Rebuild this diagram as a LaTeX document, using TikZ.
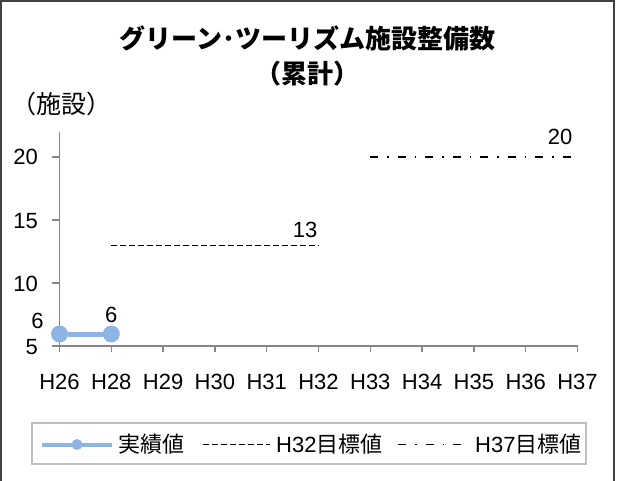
\documentclass[tikz,border=0pt]{standalone}
\usepackage{fontspec}
\setmainfont{Liberation Sans}
\newfontfamily\jp{Noto Sans CJK JP}
\usepackage{tikz}
\usetikzlibrary{positioning}
\definecolor{actualblue}{RGB}{141, 180, 227}
\definecolor{axisgray}{RGB}{134, 134, 134}
\definecolor{framegray}{RGB}{64, 64, 64}
\definecolor{boxgray}{RGB}{191, 191, 191}
\tikzstyle{title} = [inner sep=0pt, text=black, font=\jp\bfseries\fontsize{26}{26}\selectfont]
\tikzstyle{unit} = [inner sep=0pt, text=black, font=\jp\fontsize{25}{25}\selectfont]
\tikzstyle{num} = [inner sep=0pt, text=black, font=\fontsize{22}{22}\selectfont]
\tikzstyle{leg} = [inner sep=0pt, text=black, font=\fontsize{22}{22}\selectfont]
\tikzstyle{dot} = [circle, fill=actualblue, inner sep=0pt, minimum size=17pt]
\tikzstyle{actual} = [draw=actualblue, line width=5pt]
\tikzstyle{goalA} = [draw=black, line width=1.3pt, dash pattern=on 6pt off 3pt]
\tikzstyle{goalB} = [draw=black, line width=1.5pt, dash pattern=on 8pt off 9pt on 1.5pt off 9pt]
\tikzstyle{axis} = [draw=axisgray, line width=1.5pt]
\tikzstyle{legbox} = [draw=boxgray, line width=1.5pt, inner sep=0pt, minimum width=554pt, minimum height=41pt]

\begin{document}
\begin{tikzpicture}[x=1pt, y=-1pt]
\useasboundingbox (0,0) rectangle (618,480);

% frame =============================
\begin{scope}
\clip (0,0) rectangle (618,480);
\draw[framegray, line width=2pt] (1,1) rectangle (614,500);
\end{scope}

% title
\node[title] (title1) at (307.5,38) {グリーン･ツーリズム施設整備数};
\node[title, below=10pt of title1] (title2) {（累計）};
\node[unit] (unit) at (61,104) {（施設）};

% axes =============================
\coordinate (o) at (59.5,346);
\coordinate (ytop) at (59.5,132);
\coordinate (xend) at (577.5,346);
\draw[axis] (ytop) -- (o) -- (xend);
\draw[axis] (52,346) -- (59.5,346) (52,283) -- (59.5,283) (52,220) -- (59.5,220) (52,157) -- (59.5,157);
\draw[axis] (59.5,346) -- (59.5,352) (111.3,346) -- (111.3,352) (163.1,346) -- (163.1,352)
  (214.9,346) -- (214.9,352) (266.7,346) -- (266.7,352) (318.5,346) -- (318.5,352)
  (370.3,346) -- (370.3,352) (422.1,346) -- (422.1,352) (473.9,346) -- (473.9,352)
  (525.7,346) -- (525.7,352) (577.5,346) -- (577.5,352);

% y labels
\node[num, anchor=east] (y5) at (38,347) {5};
\node[num, anchor=east] (y10) at (38,284) {10};
\node[num, anchor=east] (y15) at (38,221) {15};
\node[num, anchor=east] (y20) at (38,157) {20};

% x labels
\node[num] (x26) at (59.5,382) {H26};
\node[num] (x28) at (111.3,382) {H28};
\node[num] (x29) at (163.1,382) {H29};
\node[num] (x30) at (214.9,382) {H30};
\node[num] (x31) at (266.7,382) {H31};
\node[num] (x32) at (318.5,382) {H32};
\node[num] (x33) at (370.3,382) {H33};
\node[num] (x34) at (422.1,382) {H34};
\node[num] (x35) at (473.9,382) {H35};
\node[num] (x36) at (525.7,382) {H36};
\node[num] (x37) at (577.5,382) {H37};

% series =============================

% actual
\node[dot] (h26) at (59.5,334) {};
\node[dot] (h28) at (111.3,334) {};
\path[actual] (h26) -- (h28);
\node[num] (v26) at (37.5,321) {6};
\node[num, above=2.5pt of h28] (v28) {6};

% goal H32
\coordinate (a28) at (111.3,245.2);
\coordinate (a32) at (318.5,245.2);
\path[goalA] (a28) -- (a32);
\node[num] (v32) at (305,230) {13};

% goal H37
\coordinate (b33) at (370.3,157);
\coordinate (b37) at (577.5,157);
\path[goalB] (b33) -- (b37);
\node[num] (v37) at (560,137) {20};

% legend =============================
\node[legbox] (legend) at (309,443.5) {};
\coordinate (la1) at (42,444.5);
\coordinate (la2) at (112,444.5);
\path[actual, line width=4pt] (la1) -- (la2);
\node[dot, minimum size=11pt] (lm) at (77,444.5) {};
\node[leg, right=6pt of la2] (lt1) {\jp 実績値};
\coordinate (lb1) at (203,444.5);
\coordinate (lb2) at (270,444.5);
\path[goalA] (lb1) -- (lb2);
\node[leg, right=6pt of lb2] (lt2) {H32\jp 目標値};
\coordinate (lc1) at (398,444.5);
\coordinate (lc2) at (469,444.5);
\path[goalB] (lc1) -- (lc2);
\node[leg, right=6pt of lc2] (lt3) {H37\jp 目標値};

\end{tikzpicture}
\end{document}
